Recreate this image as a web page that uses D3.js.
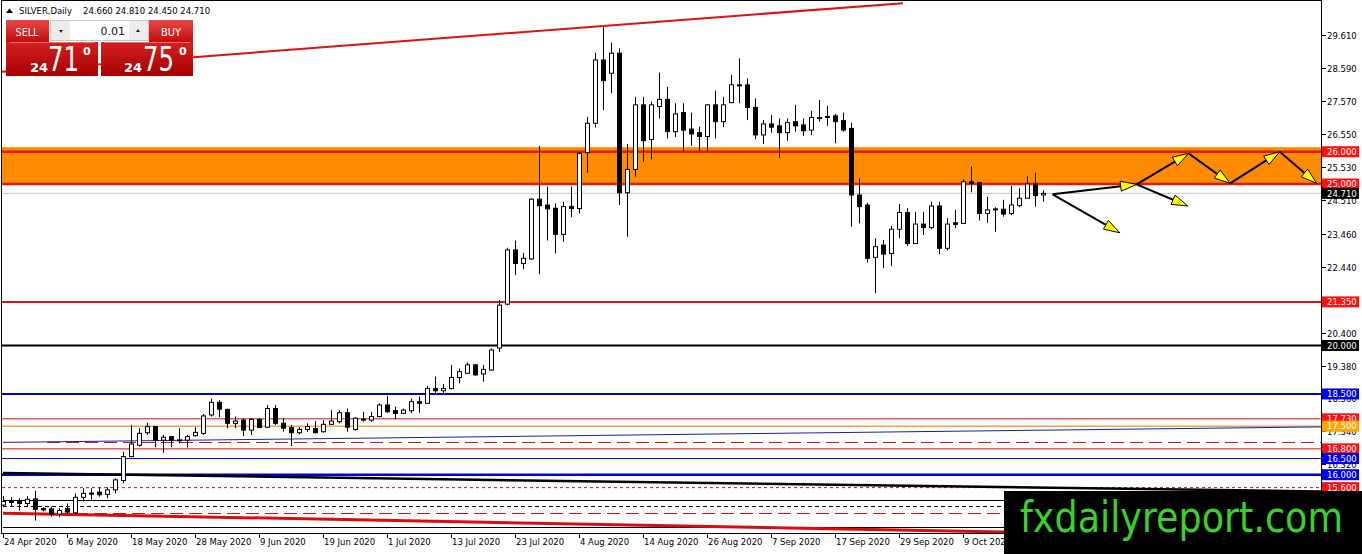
<!DOCTYPE html>
<html>
<head>
<meta charset="utf-8">
<script src="https://cdnjs.cloudflare.com/ajax/libs/d3/7.8.5/d3.min.js"></script>
<style>
  body { margin: 0; background: #fff; }
  svg { display: block; }
  text { font-family: "DejaVu Sans", Verdana, sans-serif; }
</style>
</head>
<body>
<div id="chart"></div>
<script>
// 日线数据 (SILVER, Daily)
const opens = [15.06,15.16,15.20,15.11,15.25,14.95,14.94,14.78,14.95,14.82,15.30,15.42,15.46,15.39,15.53,15.82,16.56,16.91,17.30,17.49,
  17.07,17.18,17.07,17.07,17.21,17.28,17.85,18.24,18.02,17.59,17.69,17.38,17.71,17.47,18.05,17.59,17.46,17.30,17.40,17.43,
  17.33,17.56,17.64,17.92,17.40,17.71,17.69,17.80,18.16,17.98,17.90,17.98,18.26,18.21,18.67,18.60,18.67,19.01,19.14,19.40,
  19.12,19.24,19.92,21.28,22.96,22.54,22.68,24.53,24.35,24.25,23.44,24.31,24.24,25.97,26.88,28.84,28.43,29.05,24.73,25.45,
  27.45,26.38,27.40,27.62,26.62,27.21,26.70,26.59,26.47,27.45,26.93,27.52,28.06,28.07,27.37,26.52,26.86,26.80,26.59,26.93,
  26.83,26.67,27.05,27.09,27.11,26.96,26.72,24.66,24.35,22.73,23.11,22.85,23.60,24.12,23.16,23.76,23.65,24.32,23.01,23.80,
  23.78,25.07,25.04,24.09,24.22,24.22,24.09,24.33,24.56,25.00,24.66];
const highs = [15.34,15.30,15.27,15.34,15.50,14.99,15.01,14.96,15.11,15.42,15.58,15.58,15.61,15.61,15.89,16.71,17.54,17.44,17.61,17.51,
  17.23,17.20,17.44,17.23,17.47,17.88,18.36,18.31,18.05,17.80,17.75,17.75,17.75,18.16,18.16,17.75,17.54,17.47,17.59,17.66,
  17.69,18.00,18.00,18.05,17.78,17.95,17.95,18.21,18.44,18.11,18.05,18.36,18.42,18.75,19.04,18.81,19.40,19.29,19.47,19.43,
  19.40,19.91,21.41,23.03,23.25,22.87,24.56,26.18,24.92,24.40,24.45,24.92,26.00,27.08,29.07,29.85,29.38,29.20,26.24,27.70,
  27.70,27.55,28.45,28.01,27.50,27.50,27.21,26.78,27.47,27.89,27.70,28.38,28.89,28.27,27.65,26.98,27.14,27.03,27.03,27.45,
  27.03,27.27,27.60,27.42,27.17,27.21,26.90,25.18,24.42,23.32,23.27,23.70,24.38,24.25,24.14,24.14,24.45,24.45,23.94,24.20,
  25.14,25.54,25.07,24.61,24.28,24.51,24.94,24.87,25.25,25.35,24.81];
const lows = [14.99,15.01,14.89,15.01,14.58,14.86,14.70,14.68,14.80,14.78,15.17,15.22,15.32,15.27,15.42,15.73,16.54,16.87,17.23,16.85,
  16.68,16.85,16.97,16.84,17.18,17.23,17.80,17.78,17.44,17.44,17.20,17.23,17.44,17.44,17.54,17.33,16.89,17.25,17.33,17.28,
  17.30,17.54,17.59,17.33,17.36,17.64,17.64,17.78,17.92,17.71,17.88,17.90,17.92,18.21,18.47,18.47,18.64,18.83,19.12,19.06,
  18.88,19.22,19.80,21.24,22.18,22.36,22.65,22.21,23.25,22.85,23.21,23.97,24.09,25.35,26.75,27.29,27.81,24.35,23.37,25.23,
  25.69,25.76,27.03,26.41,26.45,26.00,26.18,26.03,26.00,26.41,26.76,27.50,27.50,26.98,26.38,26.24,26.59,25.80,26.34,26.62,
  26.49,26.52,26.93,26.80,26.26,26.62,23.68,23.78,22.57,21.62,22.39,22.46,23.32,23.08,23.16,23.42,23.60,22.83,22.94,23.63,
  23.78,24.74,23.87,23.80,23.52,23.99,24.04,24.28,24.56,24.30,24.45];
const closes = [15.17,15.17,15.11,15.24,14.93,14.91,14.78,14.89,14.84,15.30,15.42,15.43,15.38,15.53,15.84,16.56,16.95,17.28,17.49,17.07,
  17.16,17.07,17.08,17.18,17.31,17.82,18.24,18.03,17.59,17.66,17.38,17.71,17.46,18.05,17.59,17.44,17.30,17.40,17.49,17.30,
  17.56,17.66,17.92,17.47,17.75,17.72,17.80,18.16,17.95,17.90,18.00,18.26,18.21,18.67,18.60,18.67,19.01,19.19,19.40,19.09,
  19.26,19.86,21.25,22.96,22.54,22.70,24.53,24.33,24.23,23.44,24.30,24.24,25.95,26.88,28.84,28.20,29.05,24.73,25.45,27.45,
  26.34,27.45,27.62,26.62,27.17,26.67,26.55,26.47,27.45,26.93,27.45,28.07,28.07,27.37,26.52,26.86,26.76,26.59,26.90,26.80,
  26.65,27.06,27.06,27.08,26.93,26.67,24.66,24.30,22.70,23.06,22.83,23.60,24.12,23.16,23.76,23.65,24.32,23.01,23.76,23.75,
  25.07,25.02,24.09,24.20,24.23,24.07,24.35,24.56,25.00,24.64,24.71];

// 时间轴标签 (每 8 根 K 线)
const dateTickBars = [0, 8, 16, 24, 32, 40, 48, 56, 64, 72, 80, 88, 96, 104, 112, 120];
const dateLabels = ["24 Apr 2020", "6 May 2020", "18 May 2020", "28 May 2020", "9 Jun 2020", "19 Jun 2020",
  "1 Jul 2020", "13 Jul 2020", "23 Jul 2020", "4 Aug 2020", "14 Aug 2020", "26 Aug 2020", "7 Sep 2020",
  "17 Sep 2020", "29 Sep 2020", "9 Oct 2020"];

// 价格刻度
const priceTicks = [29.61, 28.59, 27.57, 26.55, 25.53, 24.51, 23.46, 22.44, 21.42, 20.40, 19.38, 18.36, 17.34, 16.32, 15.30];

// 阻力区 & 水平线
const zone = [24.97, 26.14];
const labeledLevels = [26, 25, 24.71, 21.35, 20, 18.5, 17.73, 17.5, 16.8, 16.5, 16, 15.6];
const plainLevels = [17.0, 15.22, 15.03, 14.81, 14.38];

// 趋势线 [起始K线, 价格, 结束K线, 价格]
const trendLines = [
  [-1, 28.458, 112.5, 30.60],
  [0, 17.0, 164.75, 17.48],
  [0, 16.05, 164.75, 15.48],
  [0, 14.81, 164.75, 14.04]
];

// 预测箭头
const arrowSegments = [
  [[131.2, 24.68], [139.6, 23.49]],
  [[131.2, 24.68], [141.7, 24.99]],
  [[141.7, 24.99], [148.2, 25.95]],
  [[141.7, 24.99], [148.1, 24.32]],
  [[148.2, 25.95], [153.4, 25.02]],
  [[153.4, 25.02], [159.6, 26.0]],
  [[159.6, 26.0], [164.2, 25.02]]
];

const titleOHLC = [24.660, 24.810, 24.450, 24.710];
const bidAsk = { bid: ["24", "71", "0"], ask: ["24", "75", "0"], lot: "0.01" };

// 尺寸
const width = 1362, height = 554;
const plotL = 2, plotR = 1321, plotT = 1, plotB = 533;

const svg = d3.select("#chart").append("svg")
  .attr("width", width)
  .attr("height", height);

const x = d3.scaleLinear().domain([0, 164.75]).range([3, plotR]);
const y = d3.scaleLinear().domain([14.195, 30.666]).range([plotB, plotT]);

svg.append("defs").append("clipPath").attr("id", "plot")
  .append("rect").attr("x", plotL).attr("y", plotT).attr("width", plotR - plotL).attr("height", plotB - plotT);

const plot = svg.append("g").attr("clip-path", "url(#plot)");

// 橙色区域
plot.append("rect")
  .attr("x", plotL).attr("width", plotR - plotL)
  .attr("y", y(zone[1])).attr("height", y(zone[0]) - y(zone[1]))
  .attr("fill", "#ff8c00");

// 水平线样式
const levelStyle = {
  26: ["#e8160c", 2.5, null], 25: ["#e8160c", 2.5, null], 24.71: ["#c4c4c4", 1, null],
  21.35: ["#e01010", 2, null], 20: ["#000", 2, null], 18.5: ["#0000c8", 2, null],
  17.73: ["#d01010", 1, null], 17.5: ["#e8a84a", 1.5, null], 16.8: ["#d01010", 1, null],
  16.5: ["#0000c8", 1, null], 16: ["#0000c8", 2.5, null], 15.6: ["#d01010", 1, "3,3"]
};
const plainStyle = [["#d01010", 1, "13,6", 5.5], ["#000", 1, null, 0], ["#000", 1, "4,3", 0],
  ["#d01010", 1, "13,6", 9], ["#000", 1, null, 0]];

plot.selectAll(".plain").data(plainLevels).enter().append("line")
  .attr("x1", (d, i) => x(plainStyle[i][3])).attr("x2", plotR)
  .attr("y1", d => Math.round(y(d)) + 0.5).attr("y2", d => Math.round(y(d)) + 0.5)
  .attr("stroke", (d, i) => plainStyle[i][0])
  .attr("stroke-width", (d, i) => plainStyle[i][1])
  .attr("stroke-dasharray", (d, i) => plainStyle[i][2]);

plot.selectAll(".level").data(labeledLevels).enter().append("line")
  .attr("x1", plotL).attr("x2", plotR)
  .attr("y1", d => y(d)).attr("y2", d => y(d))
  .attr("stroke", d => levelStyle[d][0])
  .attr("stroke-width", d => levelStyle[d][1])
  .attr("stroke-dasharray", d => levelStyle[d][2]);

// 趋势线
const trendStyle = [["#e01010", 2], ["#1c1cb0", 1], ["#000", 2.5], ["#dd0c0c", 3]];
plot.selectAll(".trend").data(trendLines).enter().append("line")
  .attr("x1", d => x(d[0])).attr("y1", d => y(d[1]))
  .attr("x2", d => x(d[2])).attr("y2", d => y(d[3]))
  .attr("stroke", (d, i) => trendStyle[i][0])
  .attr("stroke-width", (d, i) => trendStyle[i][1]);

// K线
const bars = d3.range(opens.length);
const candles = plot.selectAll(".candle").data(bars).enter().append("g");
candles.append("line")
  .attr("x1", i => Math.round(x(i)) + 0.5).attr("x2", i => Math.round(x(i)) + 0.5)
  .attr("y1", i => y(highs[i])).attr("y2", i => y(lows[i]))
  .attr("stroke", "#000").attr("stroke-width", 1);
candles.append("rect")
  .attr("x", i => Math.round(x(i)) - 1.5)
  .attr("width", 4)
  .attr("y", i => y(Math.max(opens[i], closes[i])))
  .attr("height", i => Math.max(1, Math.abs(y(opens[i]) - y(closes[i]))))
  .attr("fill", i => closes[i] >= opens[i] ? "#fff" : "#000")
  .attr("stroke", "#000").attr("stroke-width", 1);

// 箭头
arrowSegments.forEach(seg => {
  const x0 = x(seg[0][0]), y0 = y(seg[0][1]), x1 = x(seg[1][0]), y1 = y(seg[1][1]);
  const len = Math.hypot(x1 - x0, y1 - y0), ux = (x1 - x0) / len, uy = (y1 - y0) / len;
  const hl = 16, hw = 5;
  plot.append("line").attr("x1", x0).attr("y1", y0).attr("x2", x1 - ux * hl).attr("y2", y1 - uy * hl)
    .attr("stroke", "#000").attr("stroke-width", 2);
  const bx = x1 - ux * hl, by = y1 - uy * hl;
  svg.append("path")
    .attr("d", `M${x1},${y1}L${bx - uy * hw},${by + ux * hw}L${bx + uy * hw},${by - ux * hw}Z`)
    .attr("fill", "#ffff00").attr("stroke", "#000").attr("stroke-width", 1);
});

// 边框
svg.append("line").attr("x1", plotL - 0.5).attr("x2", plotL - 0.5).attr("y1", 0).attr("y2", plotB).attr("stroke", "#000");
svg.append("line").attr("x1", plotL - 1).attr("x2", plotR).attr("y1", 0.5).attr("y2", 0.5).attr("stroke", "#000");
svg.append("line").attr("x1", plotR + 0.5).attr("x2", plotR + 0.5).attr("y1", 0).attr("y2", plotB + 1).attr("stroke", "#000");
svg.append("line").attr("x1", plotL - 1).attr("x2", plotR + 1).attr("y1", plotB + 0.5).attr("y2", plotB + 0.5).attr("stroke", "#000");

// 价格轴
const yAxis = svg.append("g");
priceTicks.forEach(p => {
  const yy = Math.round(y(p)) + 0.5;
  yAxis.append("line").attr("x1", plotR + 1).attr("x2", plotR + 5).attr("y1", yy).attr("y2", yy).attr("stroke", "#000");
  yAxis.append("text").attr("x", plotR + 6).attr("y", yy + 3).attr("font-size", 8.5).attr("fill", "#000")
    .text(d3.format(".3f")(p));
});

const labelBg = {26: "#ff1010", 25: "#ff1010", 24.71: "#000", 21.35: "#ff1010", 20: "#000", 18.5: "#0000f0",
  17.73: "#ff1010", 17.5: "#ffa500", 16.8: "#ff1010", 16.5: "#0000f0", 16: "#0000f0", 15.6: "#ff1010"};
labeledLevels.forEach(p => {
  const yy = y(p);
  yAxis.append("rect").attr("x", plotR + 1).attr("y", yy - 5.5).attr("width", 37).attr("height", 11).attr("fill", labelBg[p]);
  yAxis.append("text").attr("x", plotR + 6).attr("y", yy + 3.2).attr("font-size", 8.5).attr("fill", "#fff")
    .text(d3.format(".3f")(p));
});

// 时间轴
const xAxis = svg.append("g");
dateTickBars.forEach((b, i) => {
  const xx = Math.round(x(b)) + 0.5;
  xAxis.append("line").attr("x1", xx).attr("x2", xx).attr("y1", plotB + 1).attr("y2", plotB + 5).attr("stroke", "#000");
  xAxis.append("text").attr("x", xx + 0.5).attr("y", plotB + 12).attr("font-size", 8.5).attr("fill", "#000")
    .text(dateLabels[i]);
});

// 标题
svg.append("path").attr("d", "M6,13L9.5,8.5L13,13Z").attr("fill", "#000");
svg.append("text").attr("x", 19).attr("y", 14).attr("font-size", 8.5).text("SILVER,Daily");
svg.append("text").attr("x", 83).attr("y", 14).attr("font-size", 8.5)
  .text(titleOHLC.map(d3.format(".3f")).join(" "));

// 交易面板
const defs = svg.select("defs");
const g1 = defs.append("linearGradient").attr("id", "btn").attr("x1", 0).attr("y1", 0).attr("x2", 0).attr("y2", 1);
g1.append("stop").attr("offset", "0%").attr("stop-color", "#e84848");
g1.append("stop").attr("offset", "100%").attr("stop-color", "#c40c0c");
const g2 = defs.append("linearGradient").attr("id", "box").attr("x1", 0).attr("y1", 0).attr("x2", 0).attr("y2", 1);
g2.append("stop").attr("offset", "0%").attr("stop-color", "#d42020");
g2.append("stop").attr("offset", "100%").attr("stop-color", "#a80000");

const panel = svg.append("g");
panel.append("rect").attr("x", 6).attr("y", 20).attr("width", 43).attr("height", 22).attr("fill", "url(#btn)");
panel.append("rect").attr("x", 149).attr("y", 20).attr("width", 44).attr("height", 22).attr("fill", "url(#btn)");
panel.append("rect").attr("x", 50.5).attr("y", 20.5).attr("width", 98).attr("height", 20).attr("fill", "#fff").attr("stroke", "#c8c8c8");
panel.append("rect").attr("x", 51).attr("y", 21).attr("width", 19).attr("height", 19).attr("fill", "#ececec");
panel.append("rect").attr("x", 129).attr("y", 21).attr("width", 19).attr("height", 19).attr("fill", "#ececec");
panel.append("path").attr("d", "M59,30L63,30L61,33Z").attr("fill", "#222");
panel.append("path").attr("d", "M136,32L140,32L138,29Z").attr("fill", "#222");
panel.append("text").attr("x", 125).attr("y", 35).attr("font-size", 11).attr("text-anchor", "end").attr("fill", "#111").text(bidAsk.lot);
panel.append("text").attr("x", 27).attr("y", 36).attr("font-size", 11).attr("text-anchor", "middle").attr("fill", "#fff")
  .attr("textLength", 23).attr("lengthAdjust", "spacingAndGlyphs").text("SELL");
panel.append("text").attr("x", 171).attr("y", 36).attr("font-size", 11).attr("text-anchor", "middle").attr("fill", "#fff")
  .attr("textLength", 20).attr("lengthAdjust", "spacingAndGlyphs").text("BUY");
panel.append("rect").attr("x", 6).attr("y", 42).attr("width", 92).attr("height", 34).attr("fill", "url(#box)");
panel.append("rect").attr("x", 101).attr("y", 42).attr("width", 92).attr("height", 34).attr("fill", "url(#box)");
panel.append("line").attr("x1", 10).attr("x2", 95).attr("y1", 42.5).attr("y2", 42.5).attr("stroke", "#e87070");
panel.append("line").attr("x1", 104).attr("x2", 190).attr("y1", 42.5).attr("y2", 42.5).attr("stroke", "#e87070");

[[bidAsk.bid, 30, 48, 83], [bidAsk.ask, 124, 143, 179]].forEach(([parts, xs, xb, xsup]) => {
  panel.append("text").attr("x", xs).attr("y", 72).attr("font-size", 13).attr("font-weight", "bold")
    .attr("fill", "#fff").attr("font-family", "Liberation Sans, Arial").text(parts[0]);
  panel.append("text").attr("x", xb).attr("y", 71).attr("font-size", 33).attr("fill", "#fff")
    .attr("font-family", "Liberation Sans, Arial").attr("textLength", 31).attr("lengthAdjust", "spacingAndGlyphs").text(parts[1]);
  panel.append("text").attr("x", xsup).attr("y", 55).attr("font-size", 11).attr("font-weight", "bold")
    .attr("fill", "#fff").attr("font-family", "Liberation Sans, Arial").text(parts[2]);
});

// 水印
svg.append("rect").attr("x", 1004).attr("y", 491).attr("width", width - 1004).attr("height", height - 491).attr("fill", "#000");
svg.append("text").attr("x", 1020).attr("y", 532).attr("font-size", 42).attr("fill", "#3ad12a")
  .attr("font-family", "Liberation Sans, Arial").attr("textLength", 323).attr("lengthAdjust", "spacingAndGlyphs")
  .text("fxdailyreport.com");
</script>
</body>
</html>
